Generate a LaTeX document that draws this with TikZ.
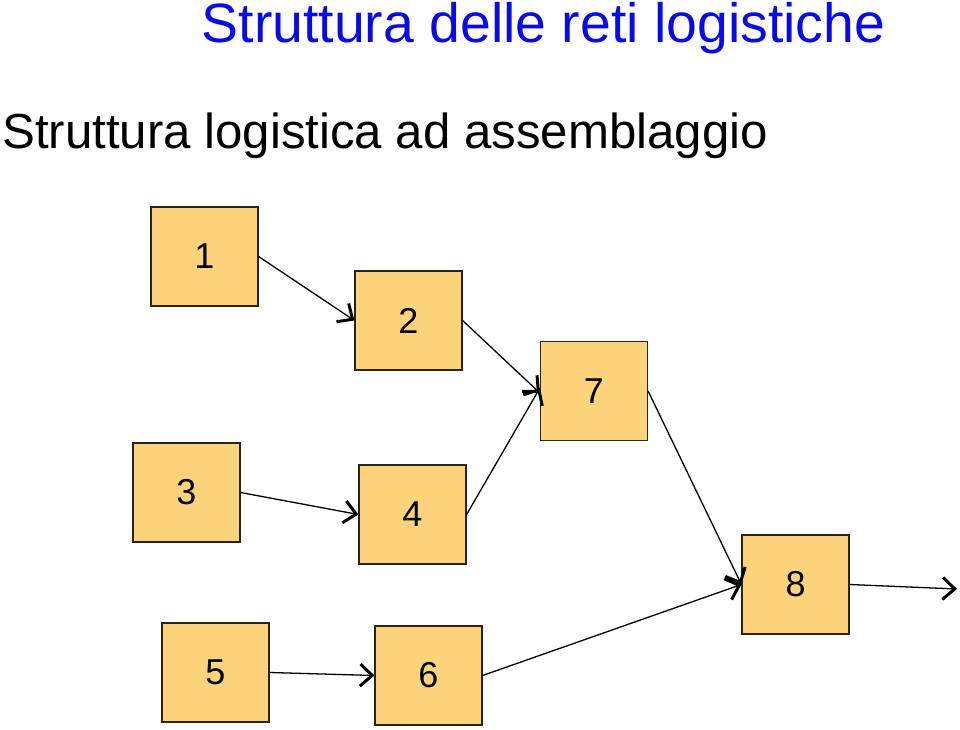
\documentclass[tikz,border=0pt]{standalone}
\usepackage{fontspec}
\setmainfont{Liberation Sans}
\usetikzlibrary{arrows.meta}
\definecolor{boxfill}{HTML}{FDD37B}
\definecolor{titleblue}{HTML}{0A0AE6}
\definecolor{boxline}{HTML}{2A2418}
\tikzset{
  stage/.style={draw=boxline, line width=1.2pt, fill=boxfill, minimum width=107pt, minimum height=99pt, inner sep=0pt, font=\fontsize{36}{36}\selectfont},
  flow/.style={line width=1.3pt, -{Straight Barb[length=12pt,width=22pt,line width=3pt]}}
}
\begin{document}
\begin{tikzpicture}[x=1pt,y=-1pt]
\useasboundingbox (0,0) rectangle (960,730);
\node[anchor=base, text=titleblue, font=\fontsize{55.4}{55.4}\selectfont, inner sep=0pt] (title) at (543.5,43) {Struttura delle reti logistiche};
\node[anchor=base west, font=\fontsize{49.2}{49.2}\selectfont, inner sep=0pt] (sub) at (2,149) {Struttura logistica ad assemblaggio};
\node[stage] (n1) at (204.5,256.5) {1};
\node[stage] (n2) at (408.5,320.5) {2};
\node[stage] (n7) at (594,391) {7};
\node[stage] (n3) at (186.5,492.5) {3};
\node[stage] (n4) at (412.5,514.5) {4};
\node[stage] (n8) at (795.5,584.5) {8};
\node[stage] (n5) at (215.5,672.5) {5};
\node[stage] (n6) at (428.5,675.5) {6};
\coordinate (out) at (957,589);
\draw[flow] (n1.east) -- (n2.west);
\draw[flow] (n2.east) -- ([yshift=-2pt]n7.west);
\draw[flow] (n4.east) -- ([yshift=3pt]n7.west);
\draw[flow] (n3.east) -- (n4.west);
\draw[flow] (n5.east) -- (n6.west);
\draw[flow] (n7.east) -- (n8.west);
\draw[flow] (n6.east) -- (n8.west);
\draw[flow] (n8.east) -- (out);
\end{tikzpicture}
\end{document}
